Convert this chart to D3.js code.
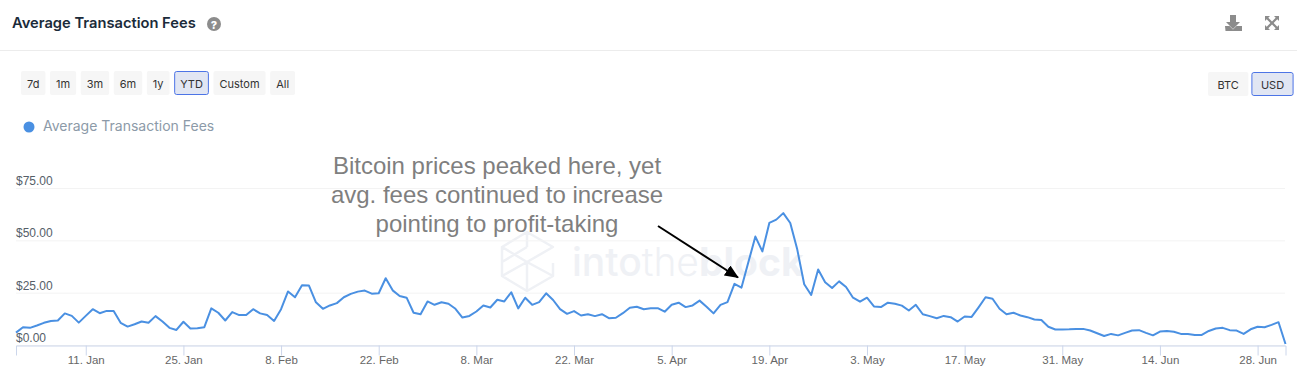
<!DOCTYPE html>
<html>
<head>
<meta charset="utf-8">
<title>Average Transaction Fees</title>
<script src="https://cdn.jsdelivr.net/npm/d3@7"></script>
<style>
  html, body { margin: 0; padding: 0; background: #fff; }
  svg { display: block; font-family: Inter, "Noto Sans", sans-serif; }
</style>
</head>
<body>
<svg id="chart" width="1297" height="384"></svg>
<script>
// daily values, one row per month
const startDay = "2021-01-01";
const jan = [5.9,8.5,8.2,9.3,10.6,11.5,11.7,15.1,13.9,10.7,13.9,17.1,15.2,16.3,16.2,10.6,8.8,9.9,11.2,10.6,13.8,11.2,8.2,7.2,11.1,7.9,8.0,8.5,17.5,15.4,11.7];
const feb = [15.7,14.3,14.3,17.1,15.1,14.3,11.5,17.1,25.6,22.8,28.5,28.4,20.4,17.3,18.9,20.0,22.8,24.4,25.5,26.0,24.5,24.7,31.9,26.1,23.4,22.6,15.4,14.7];
const mar = [20.8,19.2,20.4,19.7,17.3,13.1,13.9,16.0,18.9,17.9,21.6,20.8,25.2,17.5,22.6,19.2,20.5,24.7,21.5,17.1,14.9,16.2,14.1,14.7,13.8,14.7,12.8,13.0,15.2,17.8,18.3];
const apr = [17.1,17.5,17.6,15.9,19.2,20.2,18.1,18.9,21.2,18.3,15.1,19.2,20.5,29.2,27.4,39.6,51.8,44.7,58.3,59.9,63.0,58.3,45.7,29.0,23.9,36.1,30.0,27.2,30.4,27.7];
const may = [22.6,20.7,22.6,18.4,18.1,20.2,19.7,18.8,16.5,19.2,14.7,13.8,12.8,13.9,13.3,11.2,13.6,13.4,18.0,22.8,22.1,17.3,14.7,15.4,14.1,13.3,12.2,11.9,8.7,7.4,7.4];
const jun = [7.5,7.7,7.7,6.9,5.6,4.3,5.3,4.6,5.8,6.9,7.1,5.8,4.6,6.4,6.7,6.3,5.3,5.3,4.8,4.8,6.7,7.9,8.2,7.1,6.9,5.3,7.5,8.7,8.5,9.6];
const jul = [10.9,0.5];
const fees = [...jan, ...feb, ...mar, ...apr, ...may, ...jun, ...jul];

const xTickDays = ["2021-01-11","2021-01-25","2021-02-08","2021-02-22","2021-03-08","2021-03-22","2021-04-05","2021-04-19","2021-05-03","2021-05-17","2021-05-31","2021-06-14","2021-06-28"];
const yTicks = [0, 25, 50, 75];
const rangeButtons = ["7d","1m","3m","6m","1y","YTD","Custom","All"];
const unitButtons = ["BTC","USD"];
const noteLines = ["Bitcoin prices peaked here, yet","avg. fees continued to increase","pointing to profit-taking"];

const parseDay = d3.utcParse("%Y-%m-%d");
const day0 = parseDay(startDay);
const points = fees.map((v, i) => ({ date: d3.utcDay.offset(day0, i), value: v }));

const svg = d3.select("#chart");

const xScale = d3.scaleUtc([day0, points[points.length - 1].date], [16, 1285.5]);
const yScale = d3.scaleLinear([0, 75], [345, 188]);

// header
svg.append("text").attr("x", 12).attr("y", 28)
    .attr("font-size", 14.7).attr("font-weight", 600).attr("fill", "#1b2b3a")
    .text("Average Transaction Fees");
svg.append("circle").attr("cx", 214).attr("cy", 24).attr("r", 7).attr("fill", "#8c8c8c");
svg.append("text").attr("x", 214).attr("y", 28.5).attr("text-anchor", "middle")
    .attr("font-size", 11).attr("font-weight", 800).attr("fill", "#fff").text("?");
svg.append("line").attr("x1", 0).attr("x2", 1297).attr("y1", 50.5).attr("y2", 50.5).attr("stroke", "#ececec");

// download + fullscreen icons
const icons = svg.append("g").attr("fill", "#8c8c8c");
icons.append("path").attr("d", "M1230 15h6v7h4l-7 7-7-7h4zM1225 26h4.5l3.5 3.5 3.5-3.5h5.5v5h-16.500z");
icons.append("path").attr("d", "M1265 16h5l-1.700 1.700 3.700 3.700 3.700-3.700-1.700-1.700h5v5l-1.700-1.700-3.700 3.700 3.700 3.700 1.700-1.700v5h-5l1.700-1.700-3.700-3.700-3.700 3.700 1.700 1.700h-5v-5l1.700 1.700 3.700-3.700-3.700-3.700-1.700 1.700z");

// buttons, width comes from the label
function buttonRow(labels, x0, y0, active, pad, gap) {
    let x = x0;
    labels.forEach(label => {
        const on = label === active;
        const g = svg.append("g");
        const r = g.append("rect").attr("y", y0).attr("height", 24).attr("rx", 2)
            .attr("fill", on ? "#e1e6f3" : "#f6f6f6");
        const t = g.append("text").attr("y", y0 + 16.500).attr("font-size", 11)
            .attr("fill", "#333").attr("x", x + pad).text(label);
        const w = t.node().getComputedTextLength() + pad * 2;
        r.attr("x", x).attr("width", w);
        if (on) r.attr("x", x + 0.500).attr("y", y0 + 0.500).attr("width", w - 1).attr("height", 23)
            .attr("stroke", "#4c74e6").attr("stroke-width", 1);
        x += w + gap;
    });
}
buttonRow(rangeButtons, 21, 71, "YTD", 6, 4.6);
buttonRow(unitButtons, 1208, 72, "USD", 9.500, 3);

// legend
svg.append("circle").attr("cx", 29).attr("cy", 127).attr("r", 5.500).attr("fill", "#4a90e2");
svg.append("text").attr("x", 43).attr("y", 131).attr("font-size", 14).attr("fill", "#8c9aa8")
    .text("Average Transaction Fees");

// watermark
const mark = svg.append("g").attr("fill", "none").attr("stroke", "#eff1f5").attr("stroke-width", 2.5)
    .attr("stroke-linejoin", "round");
mark.append("path").attr("d", "M527 232L553 247L527 262L502 247zM527 232V247M502 247V276L527 291L553 276L527 262L502 276M527 262V291M553 276V263M502 262L527 247");
const word = svg.append("text").attr("x", 572).attr("y", 276).attr("font-size", 39).attr("fill", "#eff1f5");
word.append("tspan").attr("font-weight", 500).text("into");
word.append("tspan").attr("font-weight", 300).text("the");
word.append("tspan").attr("font-weight", 700).text("block");

// y axis: gridlines with the labels sitting on top of them
const yAxis = svg.append("g").attr("transform", "translate(16,0)")
    .call(d3.axisRight(yScale).tickValues(yTicks).tickSize(1269).tickFormat(d => "$" + d.toFixed(2)));
yAxis.select(".domain").remove();
yAxis.selectAll("line").attr("stroke", "#f3f3f3");
yAxis.selectAll("text").attr("x", 0).attr("dy", "-3.500px")
    .attr("font-size", 12).attr("fill", "#555e68");

// x axis
const xAxis = svg.append("g").attr("transform", "translate(0,345.500)")
    .call(d3.axisBottom(xScale).tickValues(xTickDays.map(parseDay)).tickSize(10).tickPadding(0)
        .tickFormat(d3.utcFormat("%-d. %b")));
xAxis.select(".domain").attr("stroke", "#ccd6eb");
xAxis.selectAll("line").attr("stroke", "#ccd6eb");
xAxis.selectAll("text").attr("font-size", 11.500).attr("fill", "#666");

// series
svg.append("path").datum(points)
    .attr("fill", "none").attr("stroke", "#4a90e2").attr("stroke-width", 2).attr("stroke-linejoin", "round")
    .attr("d", d3.line().x(d => xScale(d.date)).y(d => yScale(d.value)));

// annotation
svg.append("g").selectAll("text").data(noteLines).join("text")
    .attr("x", 497).attr("y", (d, i) => 174 + i * 29)
    .attr("text-anchor", "middle").attr("font-family", "'Liberation Sans', sans-serif")
    .attr("font-size", 24).attr("fill", "#7f7f7f").text(d => d);

svg.append("defs").append("marker").attr("id", "head").attr("markerUnits", "userSpaceOnUse")
    .attr("markerWidth", 14).attr("markerHeight", 12).attr("refX", 13).attr("refY", 6).attr("orient", "auto")
    .append("path").attr("d", "M0 0L14 6L0 12z").attr("fill", "#000");
svg.append("line").attr("x1", 658).attr("y1", 226).attr("x2", 738).attr("y2", 277.500)
    .attr("stroke", "#000").attr("stroke-width", 2).attr("marker-end", "url(#head)");
</script>
</body>
</html>
